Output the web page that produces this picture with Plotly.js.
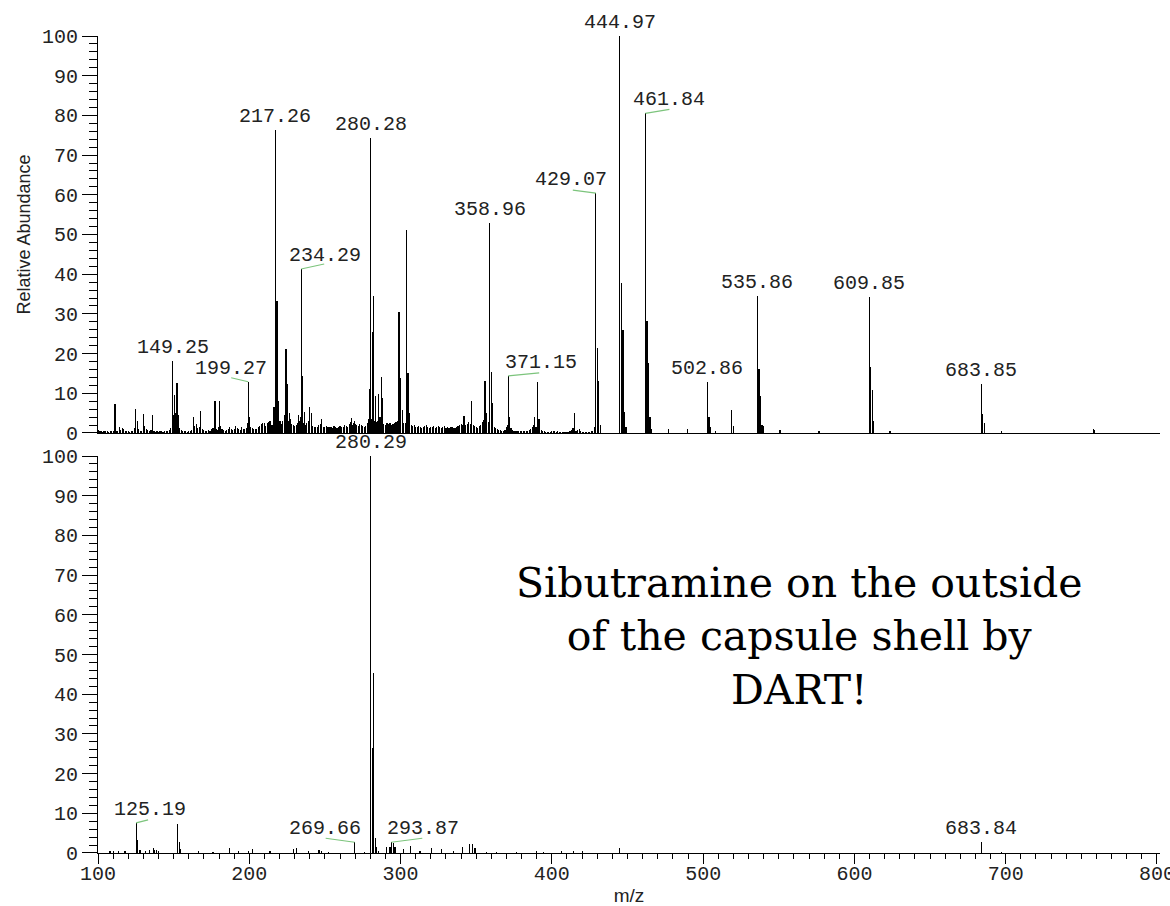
<!DOCTYPE html>
<html><head><meta charset="utf-8">
<script src="https://cdn.plot.ly/plotly-3.0.1.min.js"></script>
<style>html,body{margin:0;padding:0;background:#fff}#chart{width:1170px;height:906px}</style>
</head><body><div id="chart"></div>
<script>
// ---------- DATA ----------
// top spectrum: noise floor, one value per integer m/z starting at 100
const topNoiseStart = 100;
const topNoise = [
0.8,0.4,0.6,0.3,0.5,0.4,0.6,0.3,0.5,0.4,
0.6,0.7,0.4,0.5,1.5,0.8,1.2,0.9,0.6,0.4,
0.5,0.3,0.4,0.6,1.2,0.8,1.0,0.9,0.6,0.5,
1.1,1.8,0.9,0.7,0.6,0.8,0.5,0.4,0.3,0.4,
0.3,0.5,0.4,0.3,0.4,0.6,0.5,0.8,1.2,3.0,
4.5,3.2,3.5,2.0,1.2,0.7,0.5,0.4,0.6,0.3,
0.5,0.6,0.8,1.5,1.8,2.2,1.2,1.6,2.0,1.0,
0.8,0.6,0.5,0.7,0.6,0.9,1.2,1.6,1.0,0.8,
1.4,1.8,1.0,0.7,0.6,0.8,0.9,1.6,1.0,0.7,
0.9,1.8,1.2,1.0,0.8,1.5,1.0,0.9,1.2,2.5,
2.5,1.4,1.2,0.9,1.1,1.0,1.5,1.8,2.2,2.5,
2.0,1.8,2.4,2.8,2.2,2.0,3.5,4.0,5.0,3.0,
2.5,2.2,3.0,4.5,4.0,3.5,3.0,2.5,2.2,2.0,
1.8,2.0,2.5,3.0,4.0,3.5,2.5,2.0,2.4,3.0,
2.5,2.2,1.8,1.5,1.6,1.4,2.0,2.2,1.6,1.4,
1.5,1.8,1.4,1.6,1.5,1.2,1.8,1.6,1.3,1.5,
1.7,1.4,1.6,2.0,1.8,1.5,2.2,2.8,2.0,2.4,
2.2,2.0,1.8,2.2,2.0,1.8,1.6,1.8,2.5,3.5,
3.0,3.5,3.2,3.0,2.8,3.0,3.5,2.8,2.5,2.2,
2.0,2.4,2.2,2.6,2.0,2.2,2.4,2.8,3.0,3.2,
3.0,2.6,2.4,2.5,3.0,2.8,2.2,2.0,1.8,2.0,
1.6,1.4,1.8,1.5,1.3,1.4,1.8,2.0,1.5,1.3,
1.4,1.5,1.7,1.3,1.5,1.8,1.4,1.2,1.5,1.7,
1.3,1.5,1.2,1.4,1.6,1.3,1.2,1.5,1.7,1.9,
2.2,2.0,2.5,2.1,2.3,2.7,2.2,2.5,2.1,1.8,
1.6,1.3,1.8,2.1,2.7,3.2,2.8,2.3,2.8,3.2,
2.5,2.0,1.6,1.2,1.0,0.8,0.7,0.6,0.5,0.8,
1.5,2.0,1.8,1.2,0.8,0.6,0.5,0.4,0.5,0.4,
0.5,0.4,0.6,0.5,0.6,0.8,1.0,1.5,2.0,1.6,
1.5,2.0,1.2,0.8,0.5,0.4,0.3,0.3,0.2,0.3,
0.4,0.5,0.6,0.3,0.4,0.3,0.2,0.3,0.2,0.3,
0.2,0.3,0.4,0.8,1.2,1.0,0.6,0.8,1.0,0.6,
0.3,0.2,0.2,0.3,0.2,0.3,0.4,0.5,1.5,3.0
];
// top spectrum: peaks
const topMz = [111.2,124.9,126.2,130.0,135.9,149.25,150.3,151.2,152.2,153.2,163.4,167.9,177.3,180.4,
  199.27,200.3,209.9,213.7,215.3,216.3,217.26,218.3,219.3,220.3,224.3,225.3,226.3,227.3,232.4,
  234.29,235.3,236.3,239.8,241.3,247.8,267.7,269.5,279.3,280.28,281.3,282.3,283.7,285.2,286.4,
  287.5,288.3,299.0,300.0,301.0,303.9,304.9,305.9,317.2,341.9,347.0,355.8,356.9,358.96,359.96,
  360.96,371.15,372.2,388.4,390.5,391.5,414.9,429.07,430.1,431.1,432.1,444.97,446.0,447.0,448.0,
  449.0,461.84,462.9,463.9,464.9,466.0,477.0,489.5,502.86,503.9,504.9,508.0,518.9,519.9,535.86,
  536.9,537.9,538.9,539.9,550.8,576.6,609.85,610.9,611.9,612.9,623.5,683.85,684.9,685.9,697.3,
  757.8,758.8];
const topInt = [7.3,6.1,2.9,4.8,4.5,18.2,9.6,5.0,12.6,4.5,4.0,5.5,8.1,8.0,
  12.9,4.0,2.5,2.9,2.0,6.5,76.4,33.3,8.0,3.0,21.2,12.3,5.0,3.6,4.6,
  41.3,14.3,5.2,6.6,5.0,3.6,3.9,3.0,11.2,74.2,25.5,34.5,9.2,9.9,4.0,
  14.2,8.7,30.5,13.8,5.8,51.1,15.1,5.0,2.1,4.4,8.1,13.2,5.0,52.9,15.4,
  7.5,14.4,4.0,4.1,12.8,3.5,5.0,60.4,21.3,13.1,2.0,100,37.9,25.9,5.4,
  1.5,80.5,28.2,17.6,4.0,1.0,1.0,0.9,12.8,4.1,1.5,0.4,5.8,1.8,34.6,
  16.0,9.4,2.0,1.8,0.8,0.6,34.3,16.5,10.8,3.0,0.4,12.3,4.9,2.5,0.4,
  1.1,0.8];
// bottom spectrum: peaks
const botMz = [107.9,110.0,113.4,117.8,125.19,126.2,127.8,131.6,134.0,136.6,137.6,138.8,140.0,
  152.7,153.7,154.8,166.3,176.0,187.2,192.7,199.3,202.2,213.7,229.1,231.3,239.0,246.1,247.8,
  252.2,269.66,276.0,280.29,281.3,282.3,283.3,284.3,285.3,290.8,293.0,293.87,295.2,296.3,301.8,
  306.7,312.8,320.5,327.1,334.8,341.0,345.4,347.6,349.2,356.9,363.5,376.7,390.0,394.3,406.4,
  414.1,420.0,445.0,683.84,697.5];
const botInt = [0.5,0.5,0.4,0.5,7.6,3.3,0.8,0.6,0.8,1.2,0.8,0.8,0.5,
  7.3,2.8,1.0,0.4,0.3,1.2,0.4,0.6,1.1,0.6,1.1,1.2,0.5,0.8,0.5,
  0.3,2.7,0.3,100,26.4,45.3,3.7,1.5,0.6,1.5,1.4,2.7,2.5,1.5,1.0,
  1.8,0.5,1.3,1.0,0.4,1.6,2.3,2.2,1.3,0.3,0.3,0.3,0.6,0.3,0.4,
  0.4,0.5,1.2,2.7,0.3];
// peak labels (m/z values that carry a label)
const topLabels = [149.25,199.27,217.26,234.29,280.28,358.96,371.15,429.07,444.97,461.84,502.86,535.86,609.85,683.85];
const botLabels = [125.19,269.66,280.29,293.87,683.84];
const xTickVals = [100,200,300,400,500,600,700,800];
const yTickVals = [0,10,20,30,40,50,60,70,80,90,100];
const note = 'Sibutramine on the outside<br>of the capsule shell by<br>DART!';

// label placement styling (pixel offsets; leader = green connector end)
const topLabelStyle = {
  199.27:{dx:-17, lx:-17, ly:4}, 234.29:{dx:24, lx:23, ly:5}, 371.15:{dx:33, lx:31, ly:3},
  429.07:{dx:-25, lx:-23, ly:3}, 461.84:{dx:24, lx:24, ly:4}
};
const botLabelStyle = {
  125.19:{dx:14, lx:12, ly:3}, 269.66:{dx:-30, lx:-29, ly:4}, 293.87:{dx:32, lx:31, ly:4}
};

// ---------- BUILD ----------
const noiseX = topNoise.map((v,i)=>topNoiseStart+i);
const BW = 0.75;
const bar = (x,y,xa,ya)=>({type:'bar', x:x, y:y, xaxis:xa, yaxis:ya, width:BW,
  marker:{color:'#000', line:{width:0}}, hoverinfo:'skip'});
const traces = [
  bar(noiseX, topNoise, 'x', 'y'),
  bar(topMz, topInt, 'x', 'y'),
  bar(botMz, botInt, 'x2', 'y2')
];

const lookup = (mzs, ints, m)=>ints[mzs.indexOf(m)];
const annotations = [];
const shapes = [];
const LEADER = '#7cc47c';
function addLabels(list, mzs, ints, style, xr, yr){
  list.forEach(m=>{
    const h = lookup(mzs, ints, m);
    const s = style[m];
    annotations.push({x:m, y:h, xref:xr, yref:yr, text:m.toFixed(2), showarrow:false,
      xanchor:'center', yanchor:'bottom', xshift:s?s.dx:0, yshift:0,
      font:{family:'Liberation Mono', size:20, color:'#222'}});
    if(s){
      shapes.push({type:'line', xref:xr, yref:yr, xsizemode:'pixel', ysizemode:'pixel',
        xanchor:m, yanchor:h, x0:0, y0:0, x1:s.lx, y1:s.ly, line:{color:LEADER, width:1.2}});
    }
  });
}
addLabels(topLabels, topMz, topInt, topLabelStyle, 'x', 'y');
addLabels(botLabels, botMz, botInt, botLabelStyle, 'x2', 'y2');

annotations.push({xref:'paper', yref:'paper', x:0.661, y:0.2644, xanchor:'center', yanchor:'middle',
  text:note, showarrow:false, align:'center',
  font:{family:'DejaVu Serif', size:41, color:'#000'}});

const yax = (dom, anchor, title)=>({domain:dom, anchor:anchor, range:[0,100], tickvals:yTickVals,
  ticks:'outside', ticklen:15, tickwidth:1, tickcolor:'#000', showline:true, linecolor:'#000', linewidth:1,
  showgrid:false, zeroline:false, fixedrange:true,
  tickfont:{family:'Liberation Mono', size:20, color:'#222'},
  minor:{dtick:2, ticks:'outside', ticklen:8, tickwidth:1, tickcolor:'#000', showgrid:false},
  title:title});

const layout = {
  width:1170, height:906,
  margin:{l:98, r:10, t:36, b:53, pad:0},
  paper_bgcolor:'#fff', plot_bgcolor:'#fff',
  showlegend:false, barmode:'overlay', bargap:0, hovermode:false,
  font:{family:'Liberation Mono', size:20, color:'#222'},
  xaxis:{domain:[0,1], anchor:'y', range:[100,802], showline:true, linecolor:'#000', linewidth:1,
    showticklabels:false, ticks:'', showgrid:false, zeroline:false},
  yaxis:yax([0.5141,1], 'x', {text:'Relative Abundance', font:{family:'Liberation Sans', size:18, color:'#222'}, standoff:6}),
  xaxis2:{domain:[0,1], anchor:'y2', matches:'x', range:[100,802], tickvals:xTickVals,
    ticks:'outside', ticklen:10, tickwidth:1, tickcolor:'#000', showline:true, linecolor:'#000', linewidth:1,
    showgrid:false, zeroline:false, ticklabeloverflow:'allow', ticklabelstandoff:-8,
    tickfont:{family:'Liberation Mono', size:20, color:'#222'},
    minor:{dtick:10, ticks:'outside', ticklen:5, tickwidth:1, tickcolor:'#000', showgrid:false},
    title:{text:'m/z', font:{family:'Liberation Sans', size:19, color:'#222'}, standoff:4}},
  yaxis2:yax([0,0.4859], 'x2', {text:''}),
  annotations:annotations,
  shapes:shapes
};

Plotly.newPlot('chart', traces, layout, {staticPlot:true, displayModeBar:false});
</script>
</body></html>
